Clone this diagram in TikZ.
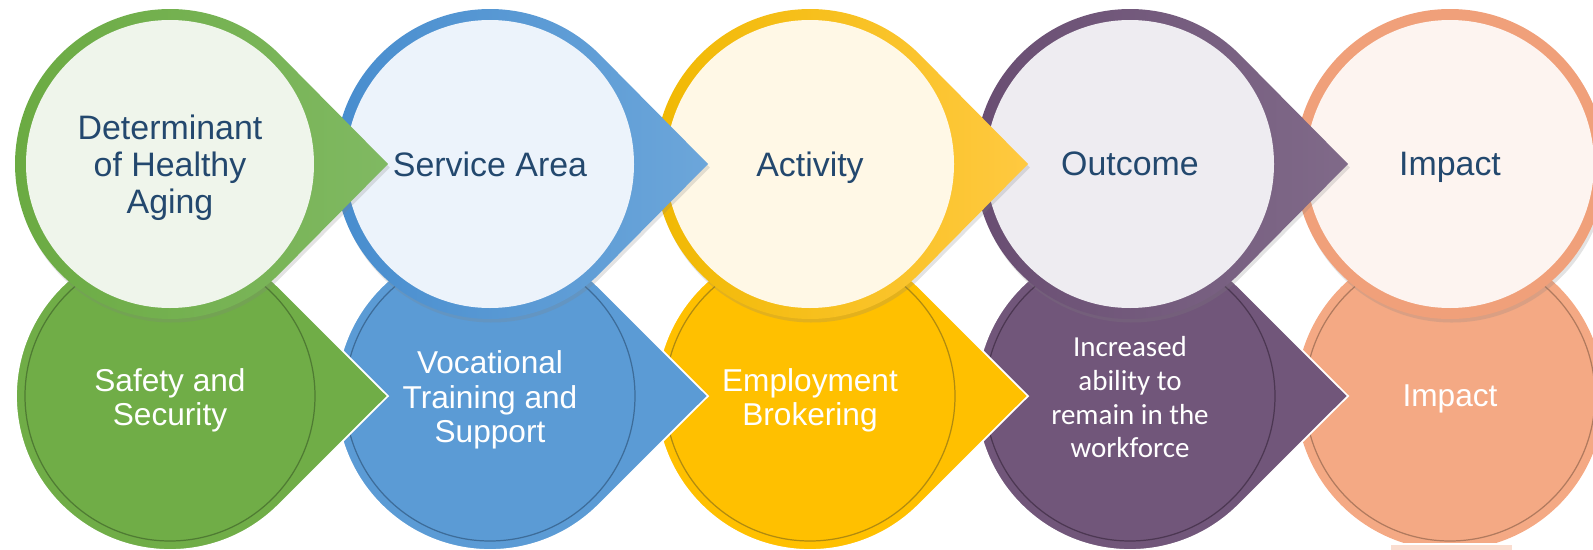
\documentclass[tikz,border=0pt]{standalone}
\usepackage{fontspec}
\setmainfont{Liberation Sans}
\newfontfamily\carlito{Carlito}
\usepackage{tikz}
\usetikzlibrary{calc,shadows}

\definecolor{navy}{HTML}{23486E}
\definecolor{greenD}{HTML}{6AAA41}
\definecolor{greenL}{HTML}{80B962}
\definecolor{greenP}{HTML}{EFF5EB}
\definecolor{greenF}{HTML}{70AD47}
\definecolor{greenR}{HTML}{4F7B33}
\definecolor{blueD}{HTML}{468CCE}
\definecolor{blueL}{HTML}{6CA6DA}
\definecolor{blueP}{HTML}{ECF3FB}
\definecolor{blueF}{HTML}{5B9BD5}
\definecolor{blueR}{HTML}{3D6C99}
\definecolor{yellowD}{HTML}{F0B800}
\definecolor{yellowL}{HTML}{FFC940}
\definecolor{yellowP}{HTML}{FFF8E6}
\definecolor{yellowF}{HTML}{FFC000}
\definecolor{yellowR}{HTML}{B08A10}
\definecolor{purpleD}{HTML}{684C71}
\definecolor{purpleL}{HTML}{806A89}
\definecolor{purpleP}{HTML}{EEECF1}
\definecolor{purpleF}{HTML}{71567A}
\definecolor{purpleR}{HTML}{4C3752}
\definecolor{salmonD}{HTML}{F0A07A}
\definecolor{salmonP}{HTML}{FDF4F0}
\definecolor{salmonF}{HTML}{F4A984}
\definecolor{salmonR}{HTML}{B07A5E}
\definecolor{pinkbar}{HTML}{FADDD0}

\begin{document}
\begin{tikzpicture}[x=0.02cm, y=0.02cm,
  toptxt/.style={align=center, text=navy, font=\fontsize{19.3}{21}\selectfont},
  bottxt/.style={align=center, text=white, font=\fontsize{18}{19.6}\selectfont, yshift=-2.3pt},
  oneline/.style={text depth=0pt},
  shadowed/.style={drop shadow={opacity=0.22, shadow xshift=1pt, shadow yshift=-2pt}}]
\useasboundingbox (0,0) rectangle (1593,549);

\coordinate (t1) at (170,385);
\coordinate (t2) at (490,385);
\coordinate (t3) at (810,385);
\coordinate (t4) at (1130,385);
\coordinate (t5) at (1450,385);
\coordinate (b1) at (170,153);
\coordinate (b2) at (490,153);
\coordinate (b3) at (810,153);
\coordinate (b4) at (1130,153);
\coordinate (b5) at (1450,153);

% lower row, drawn right to left
\fill[salmonF] (b5) circle[radius=154];
\draw[salmonR, line width=0.7pt] (b5) circle[radius=145];
\filldraw[fill=pinkbar, draw=white, line width=0.8pt] (1390,-2) rectangle (1513,5);
\node[bottxt, oneline, yshift=2.3pt] (impact2) at (b5) {Impact};

\filldraw[fill=purpleF, draw=white, line width=1pt] ($(b4)+(45:154)$) arc[start angle=45, end angle=315, radius=154] -- (1348,153) -- cycle;
\draw[purpleR, line width=0.7pt] (b4) circle[radius=145];
\node[bottxt, yshift=1.5pt, font=\carlito\fontsize{16.5}{19.2}\selectfont] (increased) at (b4) {Increased\\ability to\\remain in the\\workforce};

\filldraw[fill=yellowF, draw=white, line width=1pt] ($(b3)+(45:154)$) arc[start angle=45, end angle=315, radius=154] -- (1028,153) -- cycle;
\draw[yellowR, line width=0.7pt] (b3) circle[radius=145];
\node[bottxt] (brokering) at (b3) {Employment\\Brokering};

\filldraw[fill=blueF, draw=white, line width=1pt] ($(b2)+(45:154)$) arc[start angle=45, end angle=315, radius=154] -- (708,153) -- cycle;
\draw[blueR, line width=0.7pt] (b2) circle[radius=145];
\node[bottxt] (vocational) at (b2) {Vocational\\Training and\\Support};

\filldraw[fill=greenF, draw=white, line width=1pt] ($(b1)+(45:154)$) arc[start angle=45, end angle=315, radius=154] -- (388,153) -- cycle;
\draw[greenR, line width=0.7pt] (b1) circle[radius=145];
\node[bottxt] (safety) at (b1) {Safety and\\Security};

% upper row, drawn right to left
\fill[salmonD, shadowed] (t5) circle[radius=155];
\fill[salmonP] (t5) circle[radius=144];
\node[toptxt, oneline] (impact1) at (t5) {Impact};

\shade[left color=purpleD, right color=purpleL, shadowed] ($(t4)+(44.7:155)$) arc[start angle=44.7, end angle=315.3, radius=155] -- (1348,385) -- cycle;
\fill[purpleP] (t4) circle[radius=144];
\node[toptxt, oneline] (outcome) at (t4) {Outcome};

\shade[left color=yellowD, right color=yellowL, shadowed] ($(t3)+(44.7:155)$) arc[start angle=44.7, end angle=315.3, radius=155] -- (1028,385) -- cycle;
\fill[yellowP] (t3) circle[radius=144];
\node[toptxt, oneline] (activity) at (t3) {Activity};

\shade[left color=blueD, right color=blueL, shadowed] ($(t2)+(44.7:155)$) arc[start angle=44.7, end angle=315.3, radius=155] -- (708,385) -- cycle;
\fill[blueP] (t2) circle[radius=144];
\node[toptxt, oneline] (service) at (t2) {Service Area};

\shade[left color=greenD, right color=greenL, shadowed] ($(t1)+(44.7:155)$) arc[start angle=44.7, end angle=315.3, radius=155] -- (388,385) -- cycle;
\fill[greenP] (t1) circle[radius=144];
\node[toptxt, yshift=-2pt] (determinant) at (t1) {Determinant\\of Healthy\\Aging};
\end{tikzpicture}
\end{document}
